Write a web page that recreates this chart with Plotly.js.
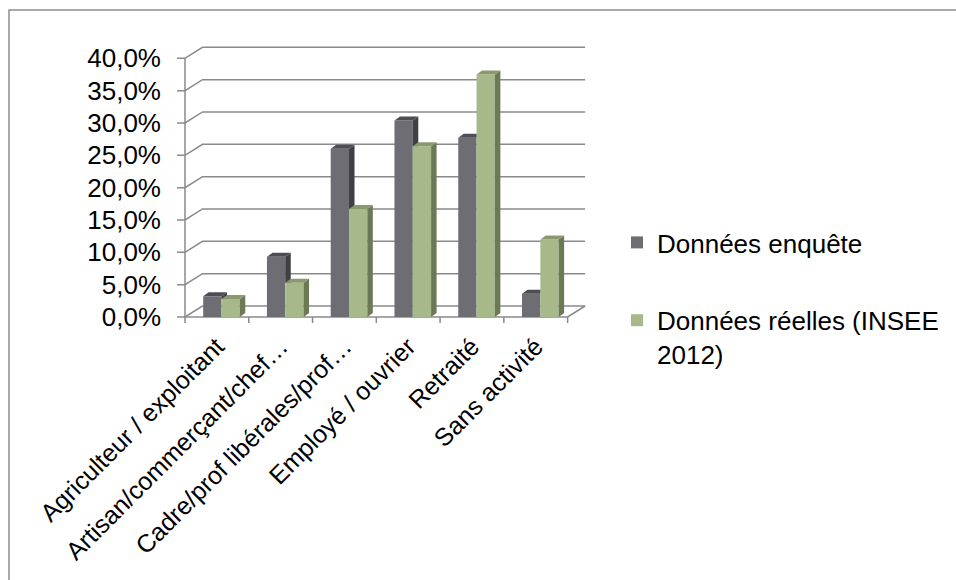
<!DOCTYPE html>
<html>
<head>
<meta charset="utf-8">
<script src="https://cdn.plot.ly/plotly-3.0.1.min.js"></script>
<style>
  html, body { margin: 0; padding: 0; background: #ffffff; }
  #chart { width: 956px; height: 580px; }
</style>
</head>
<body>
<div id="chart"></div>
<script>
// ---------------- data ----------------
const categories = [
  'Agriculteur / exploitant',
  'Artisan/commerçant/chef…',
  'Cadre/prof libérales/prof…',
  'Employé / ouvrier',
  'Retraité',
  'Sans activité'
];
const donneesEnquete = [0.032, 0.093, 0.260, 0.304, 0.277, 0.036];
const donneesReelles = [0.028, 0.053, 0.167, 0.264, 0.375, 0.120];
const seriesNames = ['Données enquête', 'Données réelles (INSEE<br>2012)'];
const yTickVals = [0, 0.05, 0.10, 0.15, 0.20, 0.25, 0.30, 0.35, 0.40];
const yTickText = ['0,0%', '5,0%', '10,0%', '15,0%', '20,0%', '25,0%', '30,0%', '35,0%', '40,0%'];

// ---------------- geometry / style ----------------
const W = 956, H = 580;
const U = 63.77;    // px per category (front plane)
const V = 646.75;   // px per unit of y (front plane)
const FRONT_LEFT = 185, FRONT_BOTTOM = 317;
const PLOT_L = 176, PLOT_R = 588, PLOT_T = 42, PLOT_B = 324;
const xMin = -0.5 - (FRONT_LEFT - PLOT_L) / U;
const xMax = -0.5 + (PLOT_R - FRONT_LEFT) / U;
const yMin = -(PLOT_B - FRONT_BOTTOM) / V;
const yMax = (FRONT_BOTTOM - PLOT_T) / V;

const WDX = 17.5 / U, WDY = 11 / V;     // wall depth
const BDX = 5.5 / U, BDY = 4 / V;       // bar depth
const BAR_W = 0.287;
const OFFSETS = [-0.215, 0.072];
const TICK_Y = 8 / U, TICK_X = 6 / V;

const GRID = '#8a8a8a';
const FRONT = ['#6d6d73', '#a7b88b'];
const TOP = ['#4d4d53', '#8a9a6e'];
const SIDE = ['#3f3f44', '#6b7a55'];
const FONT = 'Liberation Sans, Arial, sans-serif';
const FS = 26;
const FS_X = 25;

const n = categories.length;
const xIdx = categories.map((_, i) => i);
const series = [donneesEnquete, donneesReelles];

const shapes = [];
const line = { color: GRID, width: 1.5 };
// walls / gridlines with tick stubs
yTickVals.forEach(v => {
  shapes.push({
    type: 'path', xref: 'x', yref: 'y', layer: 'below', line: line,
    path: `M ${-0.5 - TICK_Y},${v} L -0.5,${v} L ${-0.5 + WDX},${v + WDY} L ${n - 0.5 + WDX},${v + WDY}`
  });
});
// front y axis line
shapes.push({ type: 'path', xref: 'x', yref: 'y', layer: 'below', line: line,
  path: `M -0.5,0 L -0.5,${yTickVals[yTickVals.length - 1]}` });
// floor front + right edge
shapes.push({ type: 'path', xref: 'x', yref: 'y', layer: 'below', line: line,
  path: `M -0.5,0 L ${n - 0.5},0 L ${n - 0.5 + WDX},${WDY}` });
// x tick stubs at category boundaries
for (let b = 0; b <= n; b++) {
  const xb = b - 0.5;
  shapes.push({ type: 'path', xref: 'x', yref: 'y', layer: 'below', line: line,
    path: `M ${xb},0 L ${xb},${-TICK_X}` });
}
// 3D faces of bars
function poly(pts) {
  return 'M ' + pts.map(p => p[0] + ',' + p[1]).join(' L ') + ' Z';
}
xIdx.forEach(i => {
  series.forEach((vals, s) => {
    const v = vals[i];
    const xl = i + OFFSETS[s];
    const xr = xl + BAR_W;
    const other = s === 0 ? series[1][i] : -1;
    // side face
    if (s === 1) {
      shapes.push({ type: 'path', xref: 'x', yref: 'y', layer: 'above', line: { width: 0 },
        fillcolor: SIDE[s], path: poly([[xr, 0], [xr, v], [xr + BDX, v + BDY], [xr + BDX, BDY]]) });
    } else if (v > other) {
      const yb = other;
      shapes.push({ type: 'path', xref: 'x', yref: 'y', layer: 'above', line: { width: 0 },
        fillcolor: SIDE[s], path: poly([[xr, yb], [xr, v], [xr + BDX, v + BDY], [xr + BDX, yb]]) });
    }
    // top face
    let topPts;
    if (s === 0 && other > v) {
      topPts = [[xl, v], [xl + BDX, v + BDY], [xr, v + BDY], [xr, v]];
    } else {
      topPts = [[xl, v], [xl + BDX, v + BDY], [xr + BDX, v + BDY], [xr, v]];
    }
    shapes.push({ type: 'path', xref: 'x', yref: 'y', layer: 'above', line: { width: 0 },
      fillcolor: TOP[s], path: poly(topPts) });
  });
});
// chart area border (left and top edges visible)
const px2x = p => (p - PLOT_L) / (PLOT_R - PLOT_L);
const px2y = p => (PLOT_B - p) / (PLOT_B - PLOT_T);
shapes.push({ type: 'path', xref: 'paper', yref: 'paper', layer: 'below',
  line: { color: '#8e8e8e', width: 1.5 },
  path: `M ${px2x(9)},${px2y(H + 5)} L ${px2x(9)},${px2y(10)} L ${px2x(W + 5)},${px2y(10)}` });

const traces = series.map((vals, s) => ({
  type: 'bar',
  x: xIdx,
  y: vals,
  name: seriesNames[s],
  width: BAR_W,
  offset: OFFSETS[s],
  marker: { color: FRONT[s], line: { width: 0 } },
  legendgroup: 'g' + s,
  hoverinfo: 'skip'
}));

const layout = {
  width: W, height: H,
  margin: { l: PLOT_L, r: W - PLOT_R, t: PLOT_T, b: H - PLOT_B, pad: 0 },
  paper_bgcolor: '#ffffff',
  plot_bgcolor: 'rgba(0,0,0,0)',
  font: { family: FONT, size: FS, color: '#000000' },
  showlegend: true,
  barmode: 'overlay',
  xaxis: {
    range: [xMin, xMax],
    tickmode: 'array', tickvals: xIdx, ticktext: categories,
    tickangle: -45, ticks: '', showgrid: false, zeroline: false, showline: false,
    ticklabelstandoff: 2,
    tickfont: { family: FONT, size: FS_X, color: '#000000' },
    automargin: false, fixedrange: true
  },
  yaxis: {
    range: [yMin, yMax],
    tickmode: 'array', tickvals: yTickVals, ticktext: yTickText,
    ticks: '', showgrid: false, zeroline: false, showline: false,
    ticklabelstandoff: 14,
    tickfont: { family: FONT, size: FS, color: '#000000' },
    automargin: false, fixedrange: true
  },
  legend: {
    x: px2x(617), xanchor: 'left',
    y: px2y(219), yanchor: 'top',
    font: { family: FONT, size: FS, color: '#000000' },
    tracegroupgap: 41, itemwidth: 30, valign: 'top',
    bgcolor: 'rgba(0,0,0,0)'
  },
  shapes: shapes
};

Plotly.newPlot('chart', traces, layout, { displayModeBar: false, staticPlot: true });
</script>
</body>
</html>
